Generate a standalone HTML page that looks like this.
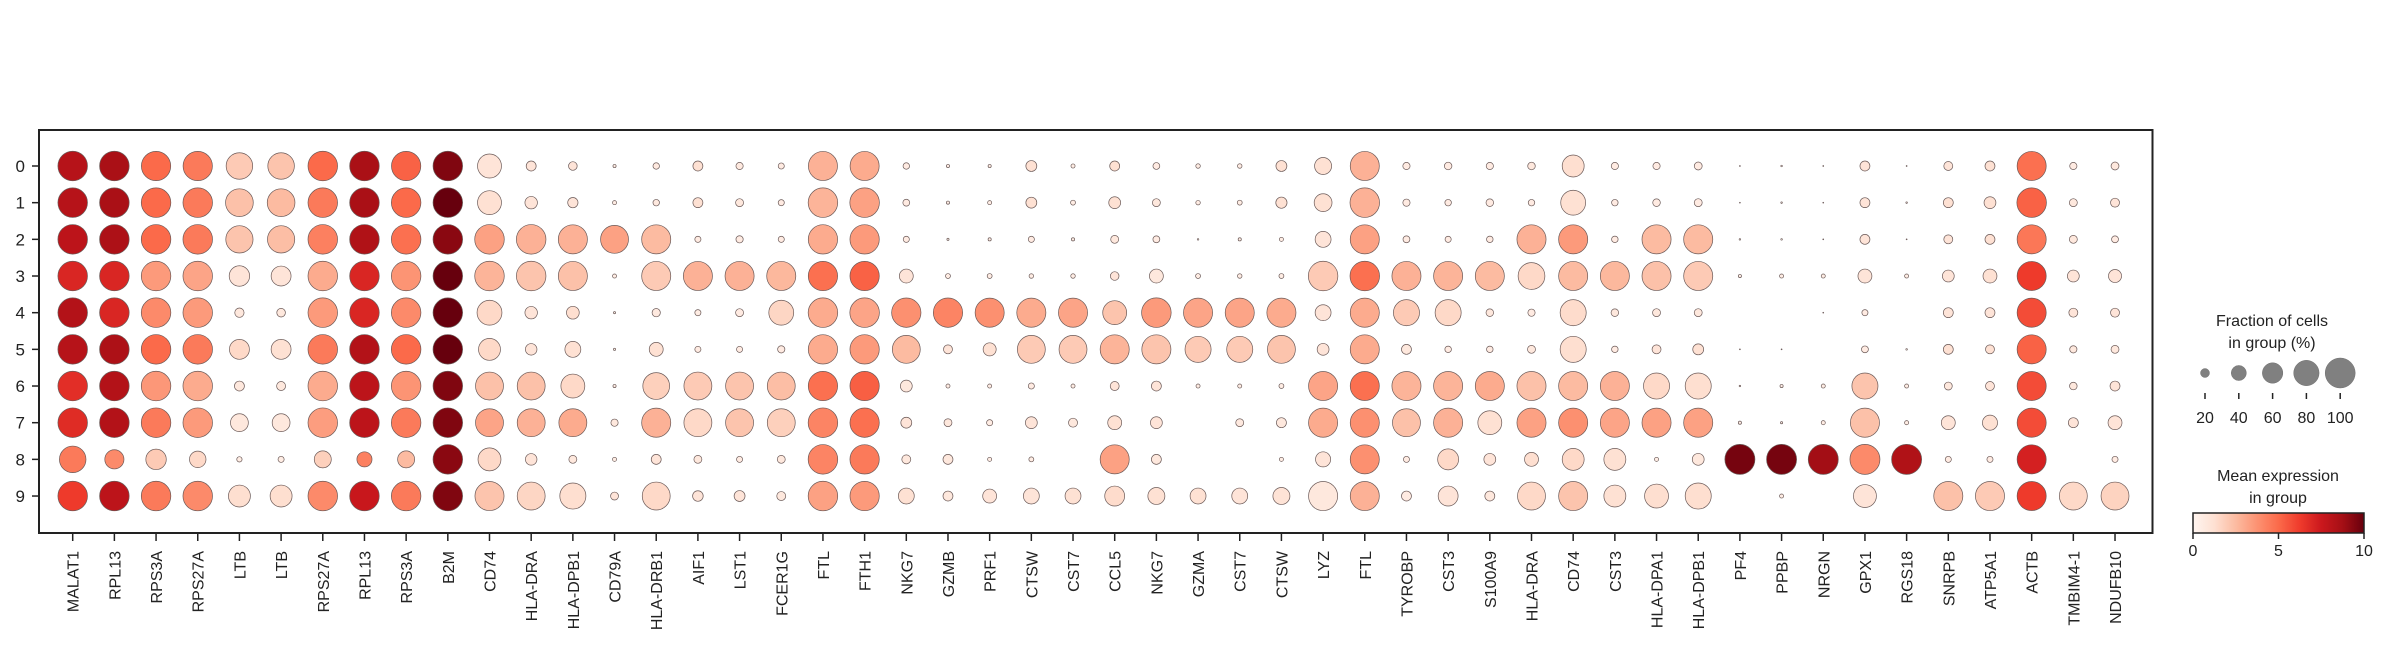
<!DOCTYPE html>
<html><head><meta charset="utf-8">
<style>
html,body{margin:0;padding:0;background:#fff;}
svg{display:block;font-family:"Liberation Sans",sans-serif;}
</style></head>
<body>
<svg id="chart" width="2388" height="646" viewBox="0 0 2388 646" xmlns="http://www.w3.org/2000/svg">
<g id="dots"></g>
<rect x="39" y="130" width="2113.5" height="403" fill="none" stroke="#222" stroke-width="2"/>
<g id="xaxis"></g>
<g id="yaxis"></g>
<g id="sizeLegend">
<text x="2272" y="326" font-size="16" text-anchor="middle" fill="#222">Fraction of cells</text>
<text x="2272" y="348" font-size="16" text-anchor="middle" fill="#222">in group (%)</text>
</g>
<g id="colorLegend">
<defs><linearGradient id="redsGrad" x1="0" x2="1" y1="0" y2="0"></linearGradient></defs>
<text x="2278" y="481" font-size="16" text-anchor="middle" fill="#222">Mean expression</text>
<text x="2278" y="503" font-size="16" text-anchor="middle" fill="#222">in group</text>
<rect x="2193" y="513" width="171" height="20" fill="url(#redsGrad)" stroke="#222" stroke-width="1.5"/>
</g>
</svg>
<script>
const genes = ["MALAT1","RPL13","RPS3A","RPS27A","LTB","LTB","RPS27A","RPL13","RPS3A","B2M","CD74","HLA-DRA","HLA-DPB1","CD79A","HLA-DRB1","AIF1","LST1","FCER1G","FTL","FTH1","NKG7","GZMB","PRF1","CTSW","CST7","CCL5","NKG7","GZMA","CST7","CTSW","LYZ","FTL","TYROBP","CST3","S100A9","HLA-DRA","CD74","CST3","HLA-DPA1","HLA-DPB1","PF4","PPBP","NRGN","GPX1","RGS18","SNRPB","ATP5A1","ACTB","TMBIM4-1","NDUFB10"];
const groups = ["0","1","2","3","4","5","6","7","8","9"];
// fraction of cells (%) per group row
const frac0 = [98,98,97,97,85,85,98,98,97,98,74,23,19,5,13,23,15,12,96,96,13,5,5,26,7,23,14,8,8,26,47,96,15,16,15,16,66,15,15,17,1,2,1,23,1,20,23,96,15,17];
const frac1 = [98,98,98,98,90,90,98,98,98,98,74,31,24,7,13,23,17,12,98,98,14,5,7,26,9,29,17,8,9,27,50,98,15,13,16,13,78,13,16,17,1,2,1,23,2,23,29,98,17,20];
const frac2 = [98,98,98,98,88,88,98,98,98,98,98,98,96,91,96,12,15,12,97,97,12,3,5,12,5,17,14,2,5,7,43,96,14,12,13,96,96,13,96,96,2,2,1,23,1,20,23,96,17,14];
const frac3 = [98,98,98,98,60,58,98,98,98,98,98,98,96,7,96,96,96,96,97,97,36,9,9,8,8,19,36,9,8,9,98,98,96,96,96,86,96,96,96,96,5,7,7,36,7,29,36,96,29,33];
const frac4 = [98,98,98,98,21,19,98,98,98,98,78,31,32,3,18,12,17,78,98,98,97,97,96,96,96,74,98,96,96,96,43,96,83,83,16,15,83,16,17,17,0,0,1,12,0,23,23,96,20,20];
const frac5 = [98,98,98,98,58,58,98,98,98,98,66,28,43,3,36,12,12,15,97,97,91,20,33,91,91,96,96,83,83,91,29,96,23,13,13,17,83,13,20,26,1,1,0,14,2,23,20,96,15,17];
const frac6 = [98,98,98,98,23,20,98,98,98,98,91,91,74,5,86,91,91,91,97,97,29,7,7,12,7,20,23,7,7,9,96,96,96,96,96,96,96,96,83,83,2,5,7,83,7,17,20,96,16,23];
const frac7 = [98,98,98,98,50,50,98,98,98,98,91,91,91,15,96,91,91,91,98,97,26,17,12,29,20,36,29,0,17,23,96,96,91,96,74,96,96,96,96,96,5,3,7,96,7,36,40,96,23,36];
const frac8 = [85,55,60,45,10,12,47,40,47,98,70,28,17,7,23,17,12,17,98,97,20,23,7,9,0,96,23,0,0,7,40,96,12,62,29,36,66,66,7,29,100,100,100,100,100,12,12,96,0,12];
const frac9 = [98,98,98,98,66,66,98,98,98,98,96,91,83,17,91,25,26,20,98,97,43,23,36,43,43,58,47,43,43,47,96,96,23,58,23,91,96,66,74,83,0,7,0,70,0,96,96,96,91,91];
// mean expression in group per row
const expr0 = [8.2,8.6,5,4.5,2,2.2,5,8.6,5.2,9.5,1,1,1,0.5,0.7,1.2,0.7,0.6,2.8,3,0.6,0.5,0.5,1.2,0.5,1.2,0.6,0.5,0.5,1.2,1.2,2.8,0.6,0.6,0.6,0.8,1.3,0.6,0.6,0.6,0.3,0.3,0.3,1,0.3,1,1.2,4.8,0.6,0.8];
const expr1 = [8.2,8.6,5,4.5,2.3,2.5,4.5,8.6,5,10,1.2,1,1,0.5,0.7,1.2,0.8,0.6,2.7,3.3,0.6,0.5,0.5,1.2,0.5,1.2,0.8,0.5,0.5,1.2,1.2,2.8,0.6,0.6,0.6,0.6,1.2,0.6,0.6,0.6,0.3,0.3,0.3,1,0.3,1.2,1.2,5.2,0.8,1];
const expr2 = [8,8.5,5,4.5,2.2,2.4,4.3,8.4,4.8,9.3,3.3,2.8,2.8,3.3,2.5,0.6,0.6,0.6,3,3.5,0.6,0.4,0.5,0.6,0.5,0.8,0.6,0.3,0.5,0.5,1,3.3,0.6,0.6,0.6,2.8,3.5,0.6,2.5,2.5,0.3,0.3,0.3,1,0.3,1,1.2,4.6,0.8,0.6];
const expr3 = [7,7,3.5,3.2,1,1,3,7,3.7,10,2.7,2.2,2.3,0.5,2,2.8,2.8,2.6,4.8,5.2,1,0.5,0.5,0.5,0.5,1,0.8,0.5,0.5,0.5,2,4.8,2.8,2.7,2.5,1.5,2.5,2.6,2.3,2,0.4,0.5,0.5,1,0.5,1,1.2,6.3,1,1];
const expr4 = [8.3,7,4,3.5,0.8,0.8,3.5,7,4,10,1.5,1,1.3,0.5,0.7,0.5,0.6,1.6,3,3.2,3.8,4.2,3.8,3,3.2,2.2,3.5,3.2,3.2,3,1,3,2,1.5,0.8,0.6,1.4,0.8,0.8,0.8,0,0,0.3,0.6,0,1,1,5.8,1,1];
const expr5 = [8.2,8.5,5,4.5,1.5,1.2,4.5,8.3,5,10,1.5,1,1.2,0.5,1.2,0.6,0.6,0.6,3,3.5,2.5,1,1.2,2,2,2.7,2.2,2,2,2.2,1,3,0.8,0.6,0.6,0.8,1.3,0.6,1,1.2,0.3,0.3,0,0.6,0.3,1.2,1.2,5.2,0.8,0.8];
const expr6 = [6.7,8.3,3.6,3,0.8,0.8,3,8,3.7,9.5,2.3,2.3,1.5,0.5,1.8,2,2.2,2.4,4.8,5.3,0.8,0.5,0.5,0.6,0.5,1,1,0.5,0.5,0.5,3.2,4.8,2.7,2.7,3,2.3,2.5,2.8,1.5,1.3,0.3,0.4,0.5,2.2,0.5,0.8,1,5.8,0.8,1];
const expr7 = [6.8,8.3,4.5,3.5,0.8,0.8,3.4,8,4.5,9.5,3.2,2.8,3,0.8,2.8,1.5,2.2,1.8,4.2,4.8,1,0.8,0.5,1,0.8,1.2,1,0,0.7,0.8,3,3.8,2.3,2.8,1.2,3.3,3.8,3.2,3.3,3.3,0.4,0.4,0.5,2.3,0.5,1,1.2,5.8,1,1];
const expr8 = [4.5,4,2,1.5,0.5,0.5,1.8,4.3,2.5,9.3,1.5,1,0.8,0.5,1,0.8,0.6,0.8,4.2,4.5,0.8,0.8,0.5,0.5,0,3.3,0.8,0,0,0.5,1,3.8,0.6,1.5,1,1.3,1.5,1.2,0.5,0.8,9.7,9.7,8.8,4,8.4,0.6,0.6,7.2,0,0.6];
const expr9 = [6.3,8,4.5,4,1.3,1.3,4,7.6,4.5,9.5,2.2,1.6,1.3,1,1.5,1,1,0.8,3.3,3.5,1.2,0.8,1,1,1.2,1.4,1.2,1.2,1,1.1,0.8,2.8,0.6,1,0.8,1.5,2.2,1.2,1.3,1.3,0,0.5,0,1,0,2.3,2,6.3,1.5,1.7];
const legendSizes = [20,40,60,80,100];
const colorTicks = [0,5,10];

const fracRows = [frac0,frac1,frac2,frac3,frac4,frac5,frac6,frac7,frac8,frac9];
const exprRows = [expr0,expr1,expr2,expr3,expr4,expr5,expr6,expr7,expr8,expr9];

const NS = "http://www.w3.org/2000/svg";
const x0 = 72.7, dx = 41.68, y0 = 166, dy = 36.67;
const xScale = i => x0 + i*dx;
const yScale = j => y0 + j*dy;
const rScale = f => 15*Math.pow(Math.max(f,0)/100, 0.75);
const stops = ["#fff5f0","#fee0d2","#fcbba1","#fc9272","#fb6a4a","#ef3b2c","#cb181d","#a50f15","#67000d"];
function hex(h){return [1,3,5].map(k=>parseInt(h.substr(k,2),16));}
function reds(v){
  let t = Math.min(Math.max(v/10,0),1)*(stops.length-1);
  let i = Math.min(Math.floor(t), stops.length-2), u = t-i;
  let a = hex(stops[i]), b = hex(stops[i+1]);
  return "rgb("+a.map((c,k)=>Math.round(c+(b[k]-c)*u)).join(",")+")";
}
function mk(tag, attrs, parent){
  const e = document.createElementNS(NS, tag);
  for (const k in attrs) e.setAttribute(k, attrs[k]);
  parent.appendChild(e);
  return e;
}
const dotsG = document.getElementById("dots");
fracRows.forEach((row, j) => {
  row.forEach((f, i) => {
    const r = rScale(f);
    if (r <= 0) return;
    const c = mk("circle", {cx: xScale(i), cy: yScale(j), r: r, fill: reds(exprRows[j][i]), stroke: "#6b5a58", "stroke-width": 0.7}, dotsG);
    
    
  });
});
const xG = document.getElementById("xaxis");
genes.forEach((g, i) => {
  const x = xScale(i);
  const t = mk("line", {x1: x, x2: x, y1: 533, y2: 541, stroke: "#222", "stroke-width": 1.5}, xG);
  
  
  const lb = mk("text", {x: 0, y: 0, transform: "translate(" + (x+6) + ",551) rotate(-90)", "text-anchor": "end", "font-size": 16, fill: "#222"}, xG);
  lb.textContent = g;
  
  
});
const yG = document.getElementById("yaxis");
groups.forEach((g, j) => {
  const y = yScale(j);
  const t = mk("line", {x1: 32, x2: 39, y1: y, y2: y, stroke: "#222", "stroke-width": 1.5}, yG);
  
  
  const lb = mk("text", {x: 25, y: y + 6, "text-anchor": "end", "font-size": 17, fill: "#222"}, yG);
  lb.textContent = g;
  
  
});
const sG = document.getElementById("sizeLegend");
legendSizes.forEach((s, k) => {
  const x = 2205 + k*33.8;
  const c = mk("circle", {cx: x, cy: 373, r: rScale(s), fill: "#808080", stroke: "#707070", "stroke-width": 0.5}, sG);
  
  
  const t = mk("line", {x1: x, x2: x, y1: 393, y2: 399, stroke: "#222", "stroke-width": 1.5}, sG);
  
  
  const lb = mk("text", {x: x, y: 423, "text-anchor": "middle", "font-size": 16, fill: "#222"}, sG);
  lb.textContent = s;
  
  
});
const grad = document.getElementById("redsGrad");
stops.forEach((s, k) => { mk("stop", {offset: (k/(stops.length-1)*100) + "%", "stop-color": s}, grad); });
const cG = document.getElementById("colorLegend");
colorTicks.forEach(v => {
  const x = 2193 + v/10*171;
  const t = mk("line", {x1: x, x2: x, y1: 533, y2: 539, stroke: "#222", "stroke-width": 1.5}, cG);
  
  
  const lb = mk("text", {x: x, y: 556, "text-anchor": "middle", "font-size": 16, fill: "#222"}, cG);
  lb.textContent = v;
  
  
});
</script>
</body></html>
